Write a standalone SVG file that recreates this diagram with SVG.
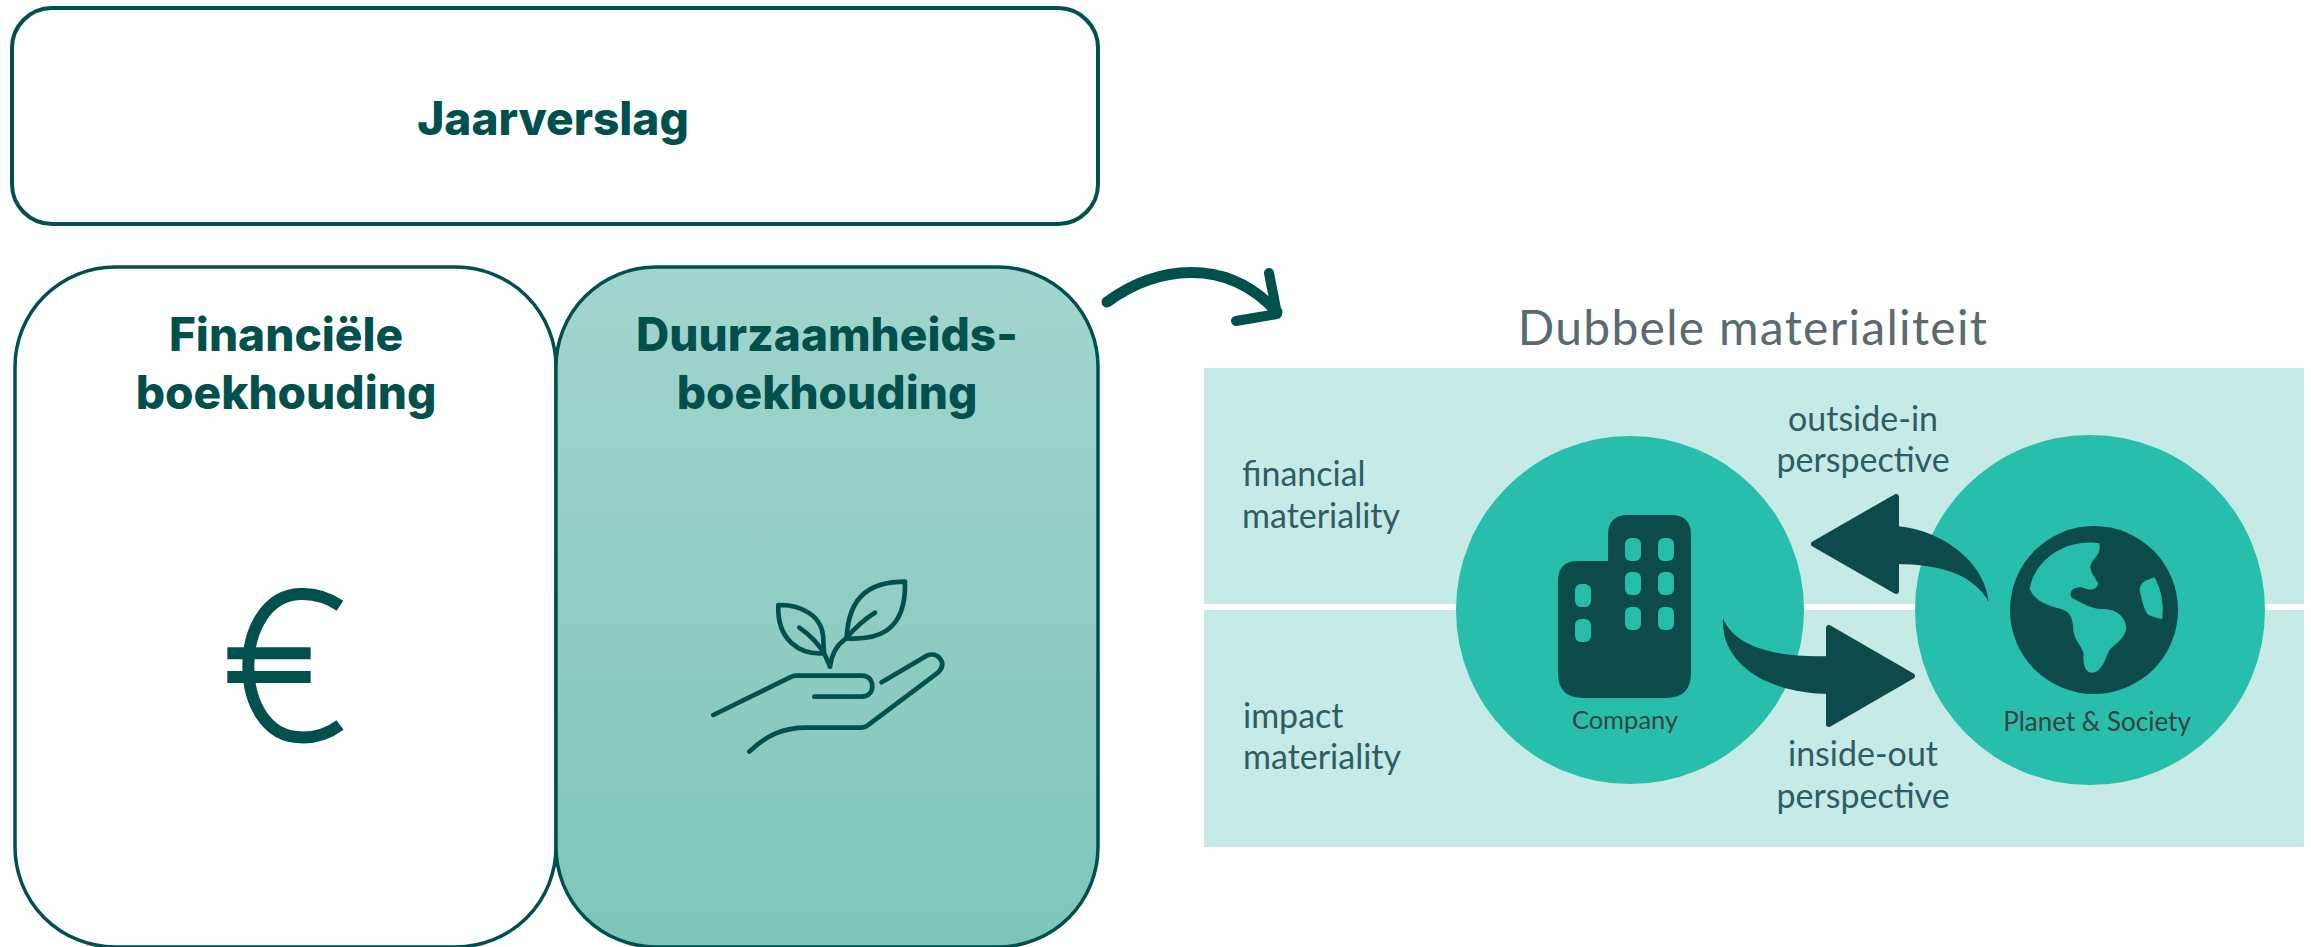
<svg xmlns="http://www.w3.org/2000/svg" width="2311" height="947" viewBox="0 0 2311 947">
<style>
.box{stroke:#00504e;stroke-width:4}
.thin{stroke:#00504e;stroke-width:3.5}
.h{font-family:"Inter","Liberation Sans",sans-serif;font-weight:800;font-size:46px;fill:#00504e;text-anchor:middle}
.l{font-family:"Lato","Liberation Sans",sans-serif;font-size:34px;fill:#2f5d66}
.m{text-anchor:middle}
.s{font-family:"Lato","Liberation Sans",sans-serif;font-size:25.5px;fill:#3a4145;text-anchor:middle}
.icon{fill:none;stroke:#00504e;stroke-width:14;stroke-linecap:round;stroke-linejoin:round}
.c{fill:#0d4a4b}
.w{fill:#25bdaa}
.head{fill:#0d4a4b;stroke:#0d4a4b;stroke-width:6;stroke-linejoin:round}
</style>
<defs>
<linearGradient id="g" x1="0" y1="0" x2="0" y2="1"><stop offset="0" stop-color="#a2d5cd"/><stop offset="1" stop-color="#7ec5b9"/></linearGradient>
</defs>
<rect width="2311" height="947" fill="#fff"/>
<g id="jaarverslag">
<rect class="box" x="12" y="8" width="1086" height="216" rx="40" fill="#fff"/>
<text class="h" x="553" y="135">Jaarverslag</text>
</g>
<g id="financieel">
<rect class="thin" x="15" y="267" width="541" height="680" rx="100" fill="#fff"/>
<text class="h" x="286" y="351">Financiële</text>
<text class="h" x="286" y="409">boekhouding</text>
<g transform="translate(200,560) scale(.3333)">
<path d="M420,137C380,110 340,100 300,102C200,105 145,210 145,318C145,430 200,530 300,532C340,534 380,525 420,495" fill="none" stroke="#00504e" stroke-width="36"/>
<path d="M82,262H332V298H82ZM82,333H332V369H82Z" fill="#00504e"/>
</g>
</g>
<g id="duurzaam">
<rect class="thin" x="556" y="267" width="542" height="680" rx="100" fill="url(#g)"/>
<text class="h" x="827" y="351">Duurzaamheids-</text>
<text class="h" x="827" y="409">boekhouding</text>
<g transform="translate(640,560) scale(.3333)" class="icon">
<path d="M220,465L450,352Q460,347 470,347L665,347C690,347 697,365 697,380C697,395 685,410 665,410L523,410"/>
<path d="M328,575C380,525 430,503 500,503L665,503Q675,503 685,495L885,345C905,330 912,315 903,300C893,283 875,280 860,287L725,367"/>
<path d="M415,135C480,133 550,165 550,240L552,280C480,285 410,240 415,135Z"/>
<path d="M478,203C510,225 535,250 555,285L570,320"/>
<path d="M795,65C700,65 625,100 620,235C700,240 800,225 795,65Z"/>
<path d="M705,158C660,185 635,215 615,238C590,255 575,285 570,320"/>
</g>
</g>
<g id="connectors">
<path d="M1107,302C1155,267 1225,255 1277,312" fill="none" stroke="#00504e" stroke-width="11" stroke-linecap="round"/>
<path d="M1269,273L1277,314L1236,321" fill="none" stroke="#00504e" stroke-width="10" stroke-linecap="round" stroke-linejoin="round"/>
</g>
<g id="materialiteit">
<text x="1753" y="345" font-family="Lato,'Liberation Sans',sans-serif" font-size="48" font-weight="400" letter-spacing="1.3" fill="#5a6a72" text-anchor="middle">Dubbele materialiteit</text>
<rect x="1204" y="368" width="1100" height="236" fill="#c6eae5"/>
<rect x="1204" y="610" width="1100" height="237" fill="#c6eae5"/>
<text class="l" x="1242" y="486">financial</text>
<text class="l" x="1242" y="528">materiality</text>
<text class="l" x="1243" y="728">impact</text>
<text class="l" x="1243" y="769">materiality</text>
<text class="l m" x="1863" y="431">outside-in</text>
<text class="l m" x="1863" y="472">perspective</text>
<text class="l m" x="1863" y="766">inside-out</text>
<text class="l m" x="1863" y="808">perspective</text>
</g>
<g id="company">
<circle cx="1630" cy="610" r="174" fill="#25bdaa" fill-opacity=".98"/>
<path class="c" d="M1608,561V535Q1608,515 1628,515H1671Q1691,515 1691,535V673Q1691,698 1666,698H1583Q1558,698 1558,673V581Q1558,561 1578,561Z"/>
<g class="w">
<rect x="1625" y="538" width="16" height="23" rx="6"/><rect x="1658" y="538" width="16" height="23" rx="6"/>
<rect x="1625" y="572" width="16" height="23" rx="6"/><rect x="1658" y="572" width="16" height="23" rx="6"/>
<rect x="1625" y="607" width="16" height="23" rx="6"/><rect x="1658" y="607" width="16" height="23" rx="6"/>
<rect x="1575" y="584" width="16" height="23" rx="6"/><rect x="1575" y="619" width="16" height="23" rx="6"/>
</g>
<text class="s" x="1625" y="729">Company</text>
</g>
<g id="planet">
<circle cx="2090" cy="610" r="175" fill="#25bdaa" fill-opacity=".98"/>
<circle class="c" cx="2094" cy="610" r="84"/>
<g transform="translate(1778,390) scale(.3425,.3333)" class="w">
<path d="M938,460C900,452 830,460 780,510C755,535 740,565 735,597C750,630 775,645 830,658C855,668 862,690 862,720C865,750 885,765 892,790C890,820 895,848 918,848C945,845 955,810 965,785C975,765 1010,755 1017,715C1015,680 990,658 950,657C920,660 890,640 860,625C845,610 860,590 885,592C905,600 930,605 935,580C925,560 905,540 915,520C925,500 945,490 938,460Z"/>
<path d="M1100,562L1070,573Q1050,590 1058,610Q1065,650 1078,672Q1095,683 1122,687Q1130,620 1100,562Z"/>
</g>
<text class="s" x="2097" y="731" style="font-size:26px">Planet &amp; Society</text>
</g>
<g id="arrows">
<path class="head" d="M1814,544L1896,497V591Z"/>
<path class="c" d="M1895,526C1933,528 1983,555 1989,602C1973,575 1943,564 1895,564Z"/>
<path class="head" d="M1912,676L1829,628V724Z"/>
<path class="c" d="M1830,656C1785,658 1735,650 1723,618C1720,665 1770,694 1830,694Z"/>
</g>
</svg>
